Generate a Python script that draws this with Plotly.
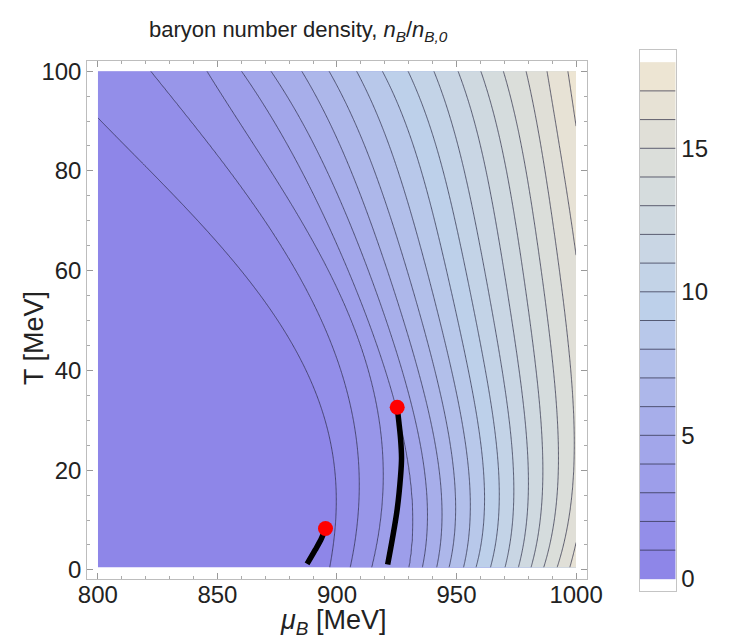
import numpy as np
import plotly.graph_objects as go

# ---------------- data ----------------
# contour levels (n_B / n_B,0) drawn as lines
levels = list(range(1, 18))

# temperature rows (MeV) at which the contour crossings were read
T_rows = [0.5, 18.5, 33, 46, 60, 74, 87, 100]

# mu_B (MeV) where each contour level 1..17 crosses the given temperature row
mu_T000 = [897.0, 905.7, 914.5, 929.8, 935.5, 941.6, 946.8, 952.9, 958.1, 964.2, 970.3, 975.9, 981.2, 986.5, 992.1, 997.4, 1003.0]
mu_T018 = [899.1, 908.4, 919.3, 932.7, 938.0, 943.7, 949.5, 955.6, 961.7, 967.7, 973.8, 979.9, 985.9, 992.2, 998.7, 1004.0, 1010.0]
mu_T033 = [893.4, 907.1, 916.5, 921.2, 929.7, 936.7, 943.6, 950.5, 957.3, 964.6, 971.5, 978.4, 985.2, 992.5, 999.4, 1006.0, 1012.0]
mu_T046 = [880.8, 896.6, 909.7, 917.4, 923.9, 931.0, 938.3, 945.6, 952.9, 960.0, 967.0, 974.3, 981.6, 988.6, 995.8, 1003.0, 1010.0]
mu_T060 = [858.5, 882.1, 895.6, 905.0, 913.1, 920.5, 928.6, 936.7, 944.8, 952.9, 961.0, 969.1, 977.1, 985.2, 993.3, 1001.4, 1008.0]
mu_T074 = [835.6, 864.8, 880.8, 892.2, 902.3, 911.8, 921.2, 930.6, 940.1, 948.8, 957.2, 966.0, 974.2, 981.9, 989.3, 996.7, 1005.0]
mu_T087 = [806.6, 843.7, 862.6, 876.0, 887.5, 898.7, 909.1, 919.6, 929.7, 939.4, 948.8, 958.3, 967.2, 975.8, 984.2, 992.2, 1000.1]
mu_T100 = [782.0, 822.1, 845.7, 860.5, 872.7, 885.5, 896.9, 908.4, 919.2, 929.9, 940.7, 950.8, 960.3, 969.7, 979.2, 987.9, 996.7]
mu_rows = [mu_T000, mu_T018, mu_T033, mu_T046, mu_T060, mu_T074, mu_T087, mu_T100]

# first-order transition lines (black) and their critical end points (red)
line1_mu = [887.5, 890.9, 893.5, 895.2]
line1_T = [1.2, 4.0, 6.3, 8.3]
line2_mu = [921.2, 923.2, 925.2, 926.6, 927.0, 926.6, 925.9, 925.2]
line2_T = [1.1, 6.3, 12.2, 18.8, 22.4, 26.3, 29.6, 32.6]
cep_mu = [895.2, 925.2]
cep_T = [8.3, 32.6]

# colorbar
cbar_ticks = [0, 5, 10, 15]
band_colors = [
    [0.0, "#8e86e8"], [0.235, "#a2a6ea"], [0.53, "#bdd0ea"],
    [0.765, "#d5dcdd"], [0.88, "#e0dfd7"], [1.0, "#ede5d3"],
]

# ---------------- build the density field from the read contours ----------------
mu_grid = np.linspace(800, 1000, 401)
T_grid = np.linspace(0.5, 100, 400)
M = np.array(mu_rows)  # rows x levels
# smooth each contour's mu(T) through the readings
mu_of_level = np.array([np.polyval(np.polyfit(T_rows, M[:, i], 4), T_grid)
                        for i in range(len(levels))]).T
Z = np.zeros((len(T_grid), len(mu_grid)))
L = np.array(levels, float)
for r in range(len(T_grid)):
    ml = np.maximum.accumulate(mu_of_level[r] + np.arange(len(L)) * 1e-6)
    lo = ml[0] - 6 * (ml[1] - ml[0])
    hi = ml[-1] + 6 * (ml[-1] - ml[-2])
    xs = np.concatenate([[lo], ml, [hi]])
    ys = np.concatenate([[L[0] - 6], L, [L[-1] + 6]])
    Z[r] = np.clip(np.interp(mu_grid, xs, ys), 0.01, 17.99)

line_col = "rgba(40,40,65,0.7)"

fig = go.Figure()
fig.add_trace(go.Contour(
    x=mu_grid, y=T_grid, z=Z,
    contours=dict(start=1, end=17, size=1, coloring="fill"),
    colorscale=band_colors, showscale=False,
    line=dict(color=line_col, width=1, smoothing=1),
    hoverinfo="skip",
))
fig.add_trace(go.Scatter(x=line1_mu, y=line1_T, mode="lines",
                         line=dict(color="black", width=5.5, shape="spline"), hoverinfo="skip"))
fig.add_trace(go.Scatter(x=line2_mu, y=line2_T, mode="lines",
                         line=dict(color="black", width=5.5, shape="spline"), hoverinfo="skip"))
fig.add_trace(go.Scatter(x=cep_mu, y=cep_T, mode="markers",
                         marker=dict(color="#ff0000", size=15, line=dict(width=0)), hoverinfo="skip"))

# colorbar as its own small axes
bands = list(range(0, 18))
fig.add_trace(go.Heatmap(
    x=[0], y=[b + 0.5 for b in bands], z=[[b] for b in bands],
    colorscale=band_colors, zmin=0, zmax=17, showscale=False,
    xaxis="x2", yaxis="y2", hoverinfo="skip",
))
lx, ly = [], []
for k in levels:
    lx += [-0.5, 0.5, None]
    ly += [k, k, None]
fig.add_trace(go.Scatter(x=lx, y=ly, mode="lines", line=dict(color=line_col, width=1),
                         xaxis="x2", yaxis="y2", hoverinfo="skip"))

W, H = 736, 643
font = "Liberation Sans, Arial, sans-serif"
frame = "#bdbdbd"
fig.update_layout(
    width=W, height=H, margin=dict(l=0, r=0, t=0, b=0),
    paper_bgcolor="white", plot_bgcolor="white", showlegend=False,
    font=dict(family=font, color="#222222"),
    xaxis=dict(domain=[81 / W, 598 / W], range=[795.56, 1004.44],
               tickvals=[800, 850, 900, 950, 1000], ticks="inside", ticklen=6, tickcolor="#999999",
               minor=dict(dtick=10, ticks="inside", ticklen=3, tickcolor="#aaaaaa"),
               showline=True, mirror="ticks", linecolor=frame, linewidth=1,
               showgrid=False, zeroline=False, tickfont=dict(size=24), ticklabelstandoff=-6),
    yaxis=dict(domain=[1 - 582 / H, 1 - 58 / H], range=[-1.78, 101.98],
               tickvals=[0, 20, 40, 60, 80, 100], ticks="inside", ticklen=6, tickcolor="#999999",
               minor=dict(dtick=5, ticks="inside", ticklen=3, tickcolor="#aaaaaa"),
               showline=True, mirror="ticks", linecolor=frame, linewidth=1,
               showgrid=False, zeroline=False, tickfont=dict(size=24)),
    xaxis2=dict(domain=[653 / W, 690 / W], range=[-0.5, 0.5], anchor="y2",
                showticklabels=False, ticks="", showgrid=False, zeroline=False,
                showline=True, mirror=True, linecolor="#c4c4c4", linewidth=1),
    yaxis2=dict(domain=[1 - 594 / H, 1 - 47 / H], range=[-0.41, 18.41], anchor="x2",
                side="right", tickvals=cbar_ticks, ticks="", showgrid=False, zeroline=False,
                showline=True, mirror=True, linecolor="#c4c4c4", linewidth=1,
                tickfont=dict(size=24)),
    annotations=[
        dict(text="baryon number density, <i>n<sub>B</sub></i>/<i>n<sub>B,0</sub></i>",
             x=300 / W, y=1 - 27 / H, xref="paper", yref="paper", showarrow=False,
             xanchor="center", yanchor="middle", font=dict(size=22, family=font)),
        dict(text="<i>μ<sub>B</sub></i> [MeV]", x=335 / W, y=1 - 626 / H, xref="paper", yref="paper",
             showarrow=False, xanchor="center", yanchor="middle", font=dict(size=27, family=font)),
        dict(text="T [MeV]", x=26 / W, y=1 - 338 / H, xref="paper", yref="paper", textangle=-90,
             showarrow=False, xanchor="center", yanchor="middle", font=dict(size=27, family=font)),
    ],
)

fig.write_html("out.html")
